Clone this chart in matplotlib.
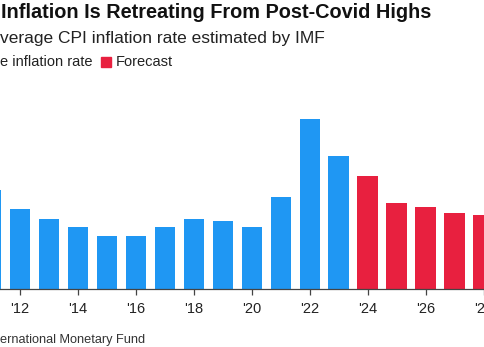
import numpy as np
import matplotlib.pyplot as plt
from matplotlib.patches import Rectangle

# world average CPI inflation, %, IMF (forecast from 2024)
years = list(range(2011, 2029))
inflation = [5.1, 4.1, 3.6, 3.2, 2.7, 2.7, 3.2, 3.6, 3.5, 3.2,
             4.7, 8.7, 6.8, 5.8, 4.4, 4.2, 3.9, 3.8]
forecast_from = 2024
tick_years = list(range(2012, 2029, 2))
tick_labels = ["'" + str(y)[2:] for y in tick_years]

blue = '#1f97f3'
red = '#e8203f'
W, H = 485, 347

fig = plt.figure(figsize=(W / 100, H / 100), dpi=100)
ax = fig.add_axes([0, 58 / H, 1, 189 / H])

colors = [red if y >= forecast_from else blue for y in years]
ax.bar(years, inflation, width=0.71, color=colors)

ax.set_xlim(2012 - 20 / 28.98, 2012 + 465 / 28.98)
ax.set_ylim(0, 9.69)
for s in ['top', 'left', 'right']:
    ax.spines[s].set_visible(False)
ax.spines['bottom'].set_color('#444444')
ax.spines['bottom'].set_linewidth(0.9)
ax.set_yticks([])
ax.set_xticks(tick_years)
ax.set_xticklabels(tick_labels, fontsize=10.5, family='Liberation Sans', color='#222222')
ax.tick_params(axis='x', length=4.5, width=0.9, color='#444444', pad=5)

# header text (left side cropped in the source)
fig.text(1 / W, 1 - 12 / H, 'Inflation Is Retreating From Post-Covid Highs',
         fontsize=14.3, fontweight='bold', family='Liberation Sans',
         va='center', ha='left', color='#111111')
fig.text(0, 1 - 38 / H, 'verage CPI inflation rate estimated by IMF',
         fontsize=12.5, family='Liberation Sans', va='center', ha='left', color='#222222')
fig.text(0, 1 - 62 / H, 'e inflation rate', fontsize=10.5, family='Liberation Sans',
         va='center', ha='left', color='#222222')
fig.patches.append(Rectangle((101 / W, 1 - 67 / H), 10 / W, 10 / H,
                             transform=fig.transFigure, color=red))
fig.text(116 / W, 1 - 62 / H, 'Forecast', fontsize=10.5, family='Liberation Sans',
         va='center', ha='left', color='#222222')
fig.text(0, 1 - 340 / H, 'ernational Monetary Fund', fontsize=9.2,
         family='Liberation Sans', va='center', ha='left', color='#333333')

fig.savefig('out.png', dpi=100)
